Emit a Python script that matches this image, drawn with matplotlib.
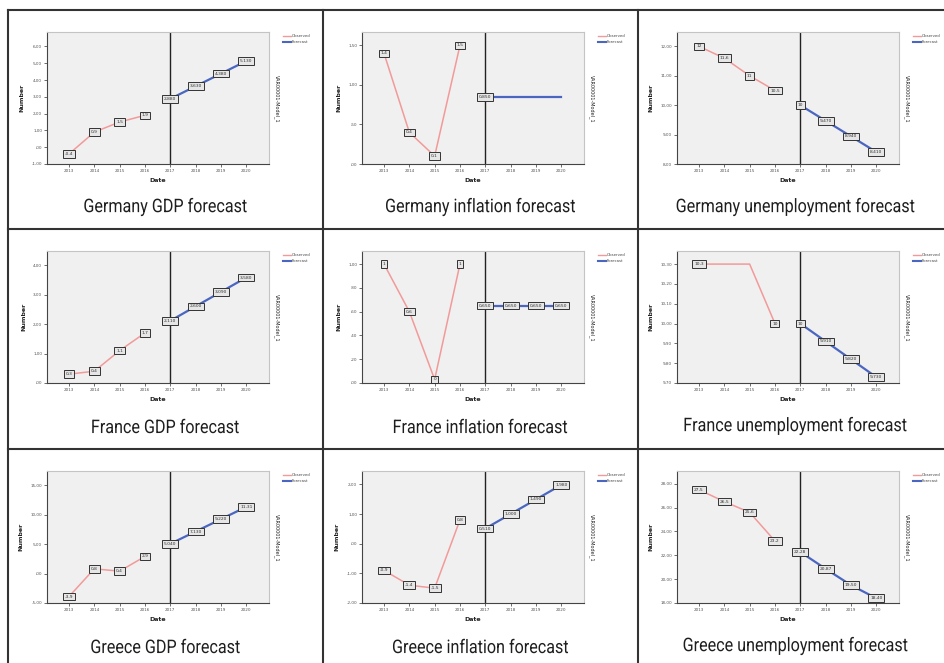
import matplotlib
matplotlib.use('Agg')
import matplotlib.pyplot as plt
from matplotlib.lines import Line2D
from matplotlib.textpath import TextPath
from matplotlib.patches import PathPatch
from matplotlib.font_manager import FontProperties
from matplotlib.transforms import Affine2D

W, H = 944, 663

years_obs = [2013, 2014, 2015, 2016]
years_fc = [2017, 2018, 2019, 2020]

titles = ['Germany GDP forecast', 'Germany inflation forecast', 'Germany unemployment forecast',
          'France GDP forecast', 'France inflation forecast', 'France unemployment forecast',
          'Greece GDP forecast', 'Greece inflation forecast', 'Greece unemployment forecast']

# observed values 2013-2016
de_gdp_obs = [-0.4, 0.9, 1.5, 1.9]
de_inf_obs = [1.4, 0.4, 0.1, 1.5]
de_unemp_obs = [12.0, 11.6, 11.0, 10.5]
fr_gdp_obs = [0.3, 0.4, 1.1, 1.7]
fr_inf_obs = [1.0, 0.6, 0.03, 1.0]
fr_unemp_obs = [10.3, 10.3, 10.3, 10.0]
gr_gdp_obs = [-3.9, 0.8, 0.4, 2.9]
gr_inf_obs = [-0.9, -1.4, -1.5, 0.8]
gr_unemp_obs = [27.5, 26.5, 25.6, 23.2]

# forecast values 2017-2020
de_gdp_fc = [2.88, 3.63, 4.38, 5.13]
de_inf_fc = [0.85, 0.85, 0.85, 0.85]
de_unemp_fc = [10.0, 9.47, 8.94, 8.41]
fr_gdp_fc = [2.11, 2.60, 3.09, 3.58]
fr_inf_fc = [0.65, 0.65, 0.65, 0.65]
fr_unemp_fc = [10.0, 9.91, 9.82, 9.73]
gr_gdp_fc = [5.04, 7.13, 9.22, 11.31]
gr_inf_fc = [0.51, 1.00, 1.49, 1.98]
gr_unemp_fc = [22.28, 20.87, 19.50, 18.40]

# point labels (None = no box)
de_gdp_lab = ['-0,4', '0,9', '1,5', '1,9', '2,880', '3,630', '4,380', '5,130']
de_inf_lab = ['1,4', '0,4', '0,1', '1,5', '0,850', None, None, None]
de_unemp_lab = ['12', '11,6', '11', '10,5', '10', '9,470', '8,940', '8,410']
fr_gdp_lab = ['0,3', '0,4', '1,1', '1,7', '2,110', '2,600', '3,090', '3,580']
fr_inf_lab = ['1', '0,6', '0', '1', '0,650', '0,650', '0,650', '0,650']
fr_unemp_lab = ['10,3', None, None, '10', '10', '9,910', '9,820', '9,730']
gr_gdp_lab = ['-3,9', '0,8', '0,4', '2,9', '5,040', '7,130', '9,220', '11,31']
gr_inf_lab = ['-0,9', '-1,4', '-1,5', '0,8', '0,510', '1,000', '1,490', '1,980']
gr_unemp_lab = ['27,5', '26,5', '25,6', '23,2', '22,28', '20,87', '19,50', '18,40']

# y ticks shown on each panel
de_gdp_ticks = [-1, 0, 1, 2, 3, 4, 5, 6]
de_inf_ticks = [0, 0.5, 1.0, 1.5]
de_unemp_ticks = [8, 9, 10, 11, 12]
fr_gdp_ticks = [0, 1, 2, 3, 4]
fr_inf_ticks = [0, 0.2, 0.4, 0.6, 0.8, 1.0]
fr_unemp_ticks = [9.7, 9.8, 9.9, 10.0, 10.1, 10.2, 10.3]
gr_gdp_ticks = [-5, 0, 5, 10, 15]
gr_inf_ticks = [-2, -1, 0, 1, 2]
gr_unemp_ticks = [18, 20, 22, 24, 26, 28]

panels = [
    (de_gdp_obs, de_gdp_fc, de_gdp_lab, de_gdp_ticks, (-1.0, 6.86)),
    (de_inf_obs, de_inf_fc, de_inf_lab, de_inf_ticks, (0.0, 1.67)),
    (de_unemp_obs, de_unemp_fc, de_unemp_lab, de_unemp_ticks, (8.0, 12.49)),
    (fr_gdp_obs, fr_gdp_fc, fr_gdp_lab, fr_gdp_ticks, (0.0, 4.48)),
    (fr_inf_obs, fr_inf_fc, fr_inf_lab, fr_inf_ticks, (0.0, 1.11)),
    (fr_unemp_obs, fr_unemp_fc, fr_unemp_lab, fr_unemp_ticks, (9.7, 10.366)),
    (gr_gdp_obs, gr_gdp_fc, gr_gdp_lab, gr_gdp_ticks, (-5.0, 17.4)),
    (gr_inf_obs, gr_inf_fc, gr_inf_lab, gr_inf_ticks, (-2.0, 2.45)),
    (gr_unemp_obs, gr_unemp_fc, gr_unemp_lab, gr_unemp_ticks, (18.0, 29.07)),
]

obs_col = '#f29a9a'
fc_col = '#4a66c0'


def spss_fmt(v):
    s = '%.2f' % v
    s = s.replace('.', ',')
    if s.startswith('0,'):
        s = s[1:]
    elif s.startswith('-0,'):
        s = '-' + s[2:]
    return s


def fx(x):
    return x / W


def fy(y):
    return 1 - y / H


# narrow caption: glyph path squeezed horizontally (no condensed font installed)
cap_prop = FontProperties(family='Roboto')
cap_size = 13.5
cap_squeeze = 0.86


def caption(fig, text, cx, cy):
    p = TextPath((0, 0), text, size=cap_size, prop=cap_prop)
    ext = p.get_extents()
    k = 100 / 72.0
    tr = (Affine2D().translate(-(ext.x0 + ext.x1) / 2, -(ext.y0 + ext.y1) / 2)
          .scale(cap_squeeze * k / W, k / H).translate(fx(cx), fy(cy)) + fig.transFigure)
    fig.add_artist(PathPatch(p, transform=tr, fc='#1e1e1e', ec='none'))


fig = plt.figure(figsize=(W / 100, H / 100), dpi=100)
fig.patch.set_facecolor('white')

col_left = [8, 323, 638]
row_top = [10, 229, 449]

# table grid
for x in col_left:
    fig.add_artist(Line2D([fx(x), fx(x)], [fy(row_top[0]), 0], transform=fig.transFigure,
                          color='#333333', lw=1.5))
for y in row_top:
    fig.add_artist(Line2D([fx(col_left[0]), 1], [fy(y), fy(y)], transform=fig.transFigure,
                          color='#333333', lw=1.5))

for i, (obs, fc, labs, ticks, ylim) in enumerate(panels):
    cl = col_left[i % 3]
    ct = row_top[i // 3]
    ax = fig.add_axes([fx(cl + 39), fy(ct + 154), 222 / W, 132 / H])
    ax.set_facecolor('#f0f0f0')

    ax.plot(years_obs, obs, color=obs_col, lw=1.1, zorder=2)
    ax.plot(years_fc, fc, color=fc_col, lw=1.6, zorder=2)
    ax.axvline(2017, color='#222222', lw=1.0, zorder=1)

    for x, y, t in zip(years_obs + years_fc, obs + fc, labs):
        if t is None:
            continue
        ax.text(x, y, t, fontsize=3.2, ha='center', va='center', color='#333333', zorder=3,
                bbox=dict(boxstyle='square,pad=0.4', fc='#e6e6e6', ec='#333333', lw=0.7))

    ax.set_xlim(2012.13, 2020.9)
    ax.set_ylim(*ylim)
    ax.set_xticks(years_obs + years_fc)
    ax.set_xticklabels([str(y) for y in years_obs + years_fc])
    ax.set_yticks(ticks)
    ax.set_yticklabels([spss_fmt(t) for t in ticks])
    ax.tick_params(labelsize=3, length=2, width=0.6, pad=1.5, colors='#555555')

    for side in ['top', 'right']:
        ax.spines[side].set_color('#c4c4c4')
        ax.spines[side].set_linewidth(0.8)
    for side in ['left', 'bottom']:
        ax.spines[side].set_color('#444444')
        ax.spines[side].set_linewidth(0.8)

    ax.set_ylabel('Number', fontsize=4.5, fontweight='bold', labelpad=5, color='#222222')
    ax.set_xlabel('Date', fontsize=4.5, fontweight='bold', labelpad=4, color='#222222')

    # legend drawn by hand outside the plot
    for k, (name, c, w) in enumerate([('Observed', obs_col, 1.0), ('Forecast', fc_col, 1.5)]):
        yy = ct + 26 + k * 6
        fig.add_artist(Line2D([fx(cl + 275), fx(cl + 283)], [fy(yy), fy(yy)],
                              transform=fig.transFigure, color=c, lw=w))
        fig.text(fx(cl + 284), fy(yy), name, fontsize=2.8, va='center', ha='left', color='#444444')

    fig.text(fx(cl + 269), fy(ct + 89), 'VAR00001-Model_1', fontsize=3.5, rotation=-90,
             ha='center', va='center', color='#222222')

    caption(fig, titles[i], cl + 157.5, ct + 197)

fig.savefig('out.png', dpi=100, facecolor='white')
